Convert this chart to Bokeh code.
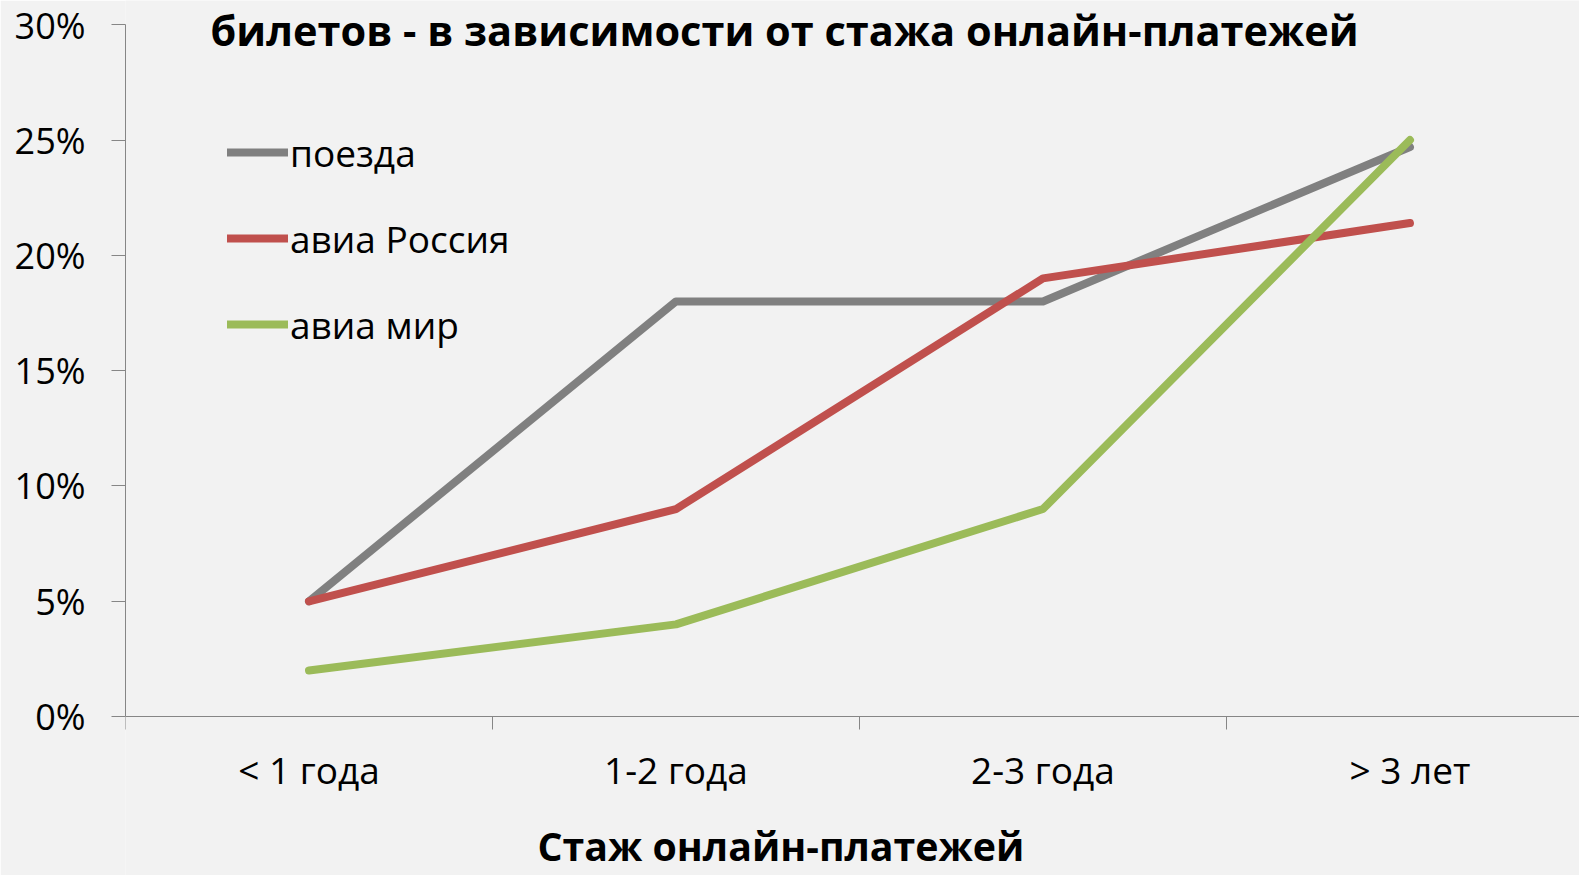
from bokeh.plotting import figure
from bokeh.models import (Range1d, FixedTicker, Label, Legend, LegendItem,
                          PrintfTickFormatter, ColumnDataSource)
from bokeh.embed import file_html
from bokeh.resources import INLINE

categories = ["< 1 года", "1-2 года", "2-3 года", "> 3 лет"]
trains = [5, 18, 18, 24.7]
avia_ru = [5, 9, 19, 21.4]
avia_world = [2, 4, 9, 25]
series_names = ["поезда", "авиа Россия", "авиа мир"]
series_colors = ["#808080", "#c0504d", "#9bbb59"]
y_ticks = [0, 5, 10, 15, 20, 25, 30]
title_text = "билетов - в зависимости от стажа онлайн-платежей"
x_title = "Стаж онлайн-платежей"

FONT = "Open Sans"
BG = "#f2f2f2"
AX = "#868686"

xpos = [i + 0.5 for i in range(len(categories))]

p = figure(width=1579, height=875, output_backend="svg", toolbar_location=None,
           x_range=Range1d(0, 3.962), y_range=Range1d(-6.89, 31.05),
           min_border_left=125, min_border_top=0, min_border_bottom=0,
           min_border_right=0)
p.background_fill_color = BG
p.border_fill_color = BG
p.outline_line_color = None
p.xgrid.visible = False
p.ygrid.visible = False

# y axis
p.yaxis.ticker = FixedTicker(ticks=y_ticks)
p.yaxis.bounds = (0, 30)
p.yaxis.formatter = PrintfTickFormatter(format="%d%%")
p.yaxis.axis_line_color = AX
p.yaxis.major_tick_line_color = AX
p.yaxis.major_tick_out = 14
p.yaxis.major_tick_in = 0
p.yaxis.minor_tick_line_color = None
p.yaxis.major_label_text_font = FONT
p.yaxis.major_label_text_font_size = "36px"
p.yaxis.major_label_text_color = "black"
p.yaxis.major_label_standoff = 26

# x axis (drawn at y = 0 inside the frame)
p.xaxis.fixed_location = 0
p.xaxis.ticker = FixedTicker(ticks=xpos, minor_ticks=[0, 1, 2, 3])
p.xaxis.major_label_overrides = {x: c for x, c in zip(xpos, categories)}
p.xaxis.axis_line_color = AX
p.xaxis.major_tick_line_color = None
p.xaxis.major_tick_out = 0
p.xaxis.major_tick_in = 0
p.xaxis.minor_tick_line_color = AX
p.xaxis.minor_tick_out = 13
p.xaxis.minor_tick_in = 0
p.xaxis.major_label_text_font = FONT
p.xaxis.major_label_text_font_size = "37px"
p.xaxis.major_label_text_color = "black"
p.xaxis.major_label_standoff = 14

items = []
for name, vals, col in zip(series_names, [trains, avia_ru, avia_world], series_colors):
    src = ColumnDataSource(dict(x=xpos, y=vals))
    r = p.line("x", "y", source=src, line_color=col, line_width=8,
               line_cap="round", line_join="round")
    items.append(LegendItem(label=name, renderers=[r]))

legend = Legend(items=items, location=(102, 525), margin=0, padding=0,
                glyph_width=61, glyph_height=52, label_height=52,
                label_standoff=2, spacing=34,
                label_text_font=FONT, label_text_font_size="37px",
                label_text_color="black",
                border_line_color=None, background_fill_alpha=0)
p.add_layout(legend, "center")

p.add_layout(Label(x=1.796, y=29.79, text=title_text, text_align="center",
                   text_baseline="middle", text_font=FONT, text_font_style="bold",
                   text_font_size="41.5px", text_color="black"))
p.add_layout(Label(x=1.786, y=-5.63, text=x_title, text_align="center",
                   text_baseline="middle", text_font=FONT, text_font_style="bold",
                   text_font_size="39.3px", text_color="black"))

open("out.html", "w").write(file_html(p, INLINE))
